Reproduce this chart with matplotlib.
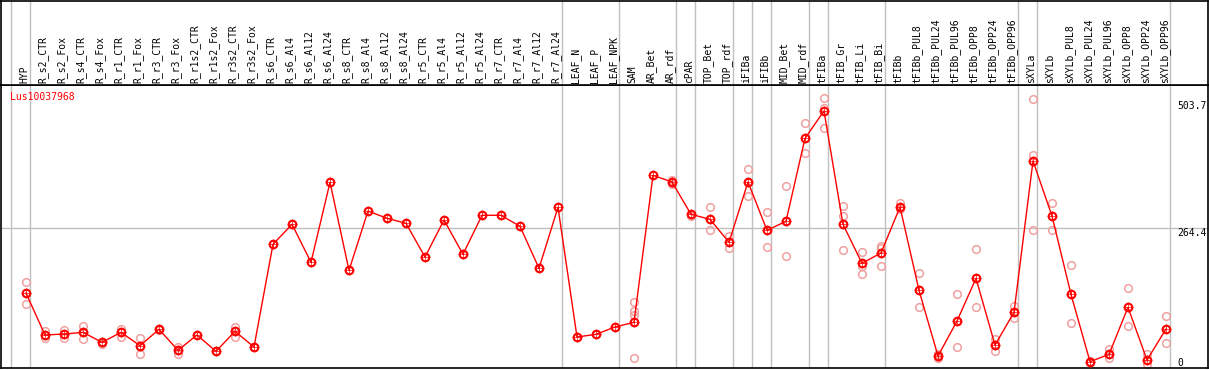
import matplotlib
matplotlib.use("Agg")
import matplotlib.pyplot as plt

gene = "Lus10037968"

samples = ["HYP", "R_s2_CTR", "R_s2_Fox", "R_s4_CTR", "R_s4_Fox", "R_r1_CTR", "R_r1_Fox",
           "R_r3_CTR", "R_r3_Fox", "R_r1s2_CTR", "R_r1s2_Fox", "R_r3s2_CTR", "R_r3s2_Fox",
           "R_s6_CTR", "R_s6_Al4", "R_s6_Al12", "R_s6_Al24", "R_s8_CTR", "R_s8_Al4",
           "R_s8_Al12", "R_s8_Al24", "R_r5_CTR", "R_r5_Al4", "R_r5_Al12", "R_r5_Al24",
           "R_r7_CTR", "R_r7_Al4", "R_r7_Al12", "R_r7_Al24", "LEAF_N", "LEAF_P", "LEAF_NPK",
           "SAM", "AR_Bet", "AR_rdf", "cPAR", "TOP_Bet", "TOP_rdf", "iFIBa", "iFIBb",
           "MID_Bet", "MID_rdf", "tFIBa", "tFIB_Gr", "tFIB_Li", "tFIB_Bi", "tFIBb",
           "tFIBb_PUL8", "tFIBb_PUL24", "tFIBb_PUL96", "tFIBb_OPP8", "tFIBb_OPP24",
           "tFIBb_OPP96", "sXYLa", "sXYLb", "sXYLb_PUL8", "sXYLb_PUL24", "sXYLb_PUL96",
           "sXYLb_OPP8", "sXYLb_OPP24", "sXYLb_OPP96"]

means = [137.4, 55.0, 56.9, 60.2, 40.6, 60.2, 34.0, 66.0, 24.9, 55.0, 22.9, 62.2, 31.4,
         233.0, 272.2, 197.6, 354.6, 181.9, 298.3, 284.0, 274.2, 208.0, 280.7, 213.3,
         289.9, 289.9, 268.3, 185.9, 305.6, 51.0, 56.3, 70.7,
         79.8, 368.4, 355.3, 291.8, 282.0, 236.9, 355.3, 260.4, 278.1, 441.0, 494.6,
         272.2, 195.7, 215.9, 306.2, 142.7, 13.7, 82.4, 166.2, 35.3, 99.5,
         396.5, 288.5, 134.8, 2.6, 17.0, 109.3, 5.9, 66.7]

replicates = [[158.4, 115.8], [63.4, 48.5], [64.8, 48.5], [73.2, 46.5], [41.9, 36.6],
              [66.7, 51.6], [48.5, 17.0], [67.4, 64.8], [32.0, 17.0], [], [23.5],
              [71.3, 51.6], [32.0],
              [], [], [], [], [], [], [], [], [], [], [], [], [], [], [], [],
              [], [], [],
              [120.4, 102.0, 94.2, 10.4], [], [359.2, 351.3], [287.9], [306.2, 260.4],
              [249.9, 225.1], [380.1, 327.2], [295.7, 227.0], [346.8, 209.4],
              [470.4, 411.6], [519.5, 500.5, 460.6], [308.1, 288.5, 221.2],
              [218.6, 191.0, 174.1], [230.2, 225.1, 189.8], [313.4, 301.7],
              [176.0, 109.3], [17.6, 9.2], [134.8, 30.8], [223.1, 109.3], [46.5, 23.5],
              [111.9, 87.7],
              [518.2, 407.6, 260.4], [313.4, 260.4], [192.3, 78.5], [4.0, 1.5],
              [26.9, 10.4], [146.6, 72.0], [17.0, -1.0], [91.7, 39.3]]

group_ends = [-1, 0, 28, 31, 34, 35, 37, 38, 39, 41, 42, 45, 52, 53, 60]
y_marks = [503.7, 264.4, 0]

plt.rcParams['font.family'] = 'DejaVu Sans Mono'
plt.rcParams['font.size'] = 7

fig = plt.figure(figsize=(12.09, 3.70), dpi=100)
W, H = 1209.0, 370.0
ax = fig.add_axes([1 / W, 2 / H, 1207 / W, 283 / H])
hx = fig.add_axes([1 / W, 285 / H, 1207 / W, 84.5 / H], sharex=ax)

xmin = -25 / 19.0
xmax = xmin + 1207 / 19.0
ax.set_xlim(xmin, xmax)
ax.set_ylim(-9.8, 545.6)
hx.set_ylim(0, 1)

for a in (ax, hx):
    a.set_xticks([])
    a.set_yticks([])
    for s in a.spines.values():
        s.set_color('black')
        s.set_linewidth(1.2)
    for g in group_ends:
        a.axvline(g + 0.22, color='#c0c0c0', lw=1, zorder=0)

ax.axhline(264.4, color='#c0c0c0', lw=1, zorder=0)

for i, name in enumerate(samples):
    hx.text(i - 0.1, 0.025, name, rotation=90, ha='center', va='bottom')

# replicate values, light
for i, reps in enumerate(replicates):
    if reps:
        ax.plot([i] * len(reps), reps, 'o', ms=5.5, mfc='none', mec='#f0a0a0',
                mew=1.1, ls='none', zorder=2)

# mean line with markers
x = list(range(len(samples)))
ax.plot(x, means, color='red', lw=1, zorder=3)
ax.plot(x, means, 'o', ms=5.5, mfc='none', mec='red', mew=1.5, ls='none', zorder=4)
ax.plot(x, means, '+', ms=7, mec='red', mew=0.5, ls='none', zorder=4)

ax.text(9 / 1207, (368 - 97) / 283, gene, color='red', ha='left', va='center',
        transform=ax.transAxes)

rx = (1177 - 1) / 1207
ax.text(rx, y_marks[0], "503.7", ha='left', va='center', transform=ax.get_yaxis_transform())
ax.text(rx, y_marks[1], "264.4", ha='left', va='top', transform=ax.get_yaxis_transform())
ax.text(rx, y_marks[2], "0", ha='left', va='center', transform=ax.get_yaxis_transform())

fig.savefig("out.png", dpi=100)
